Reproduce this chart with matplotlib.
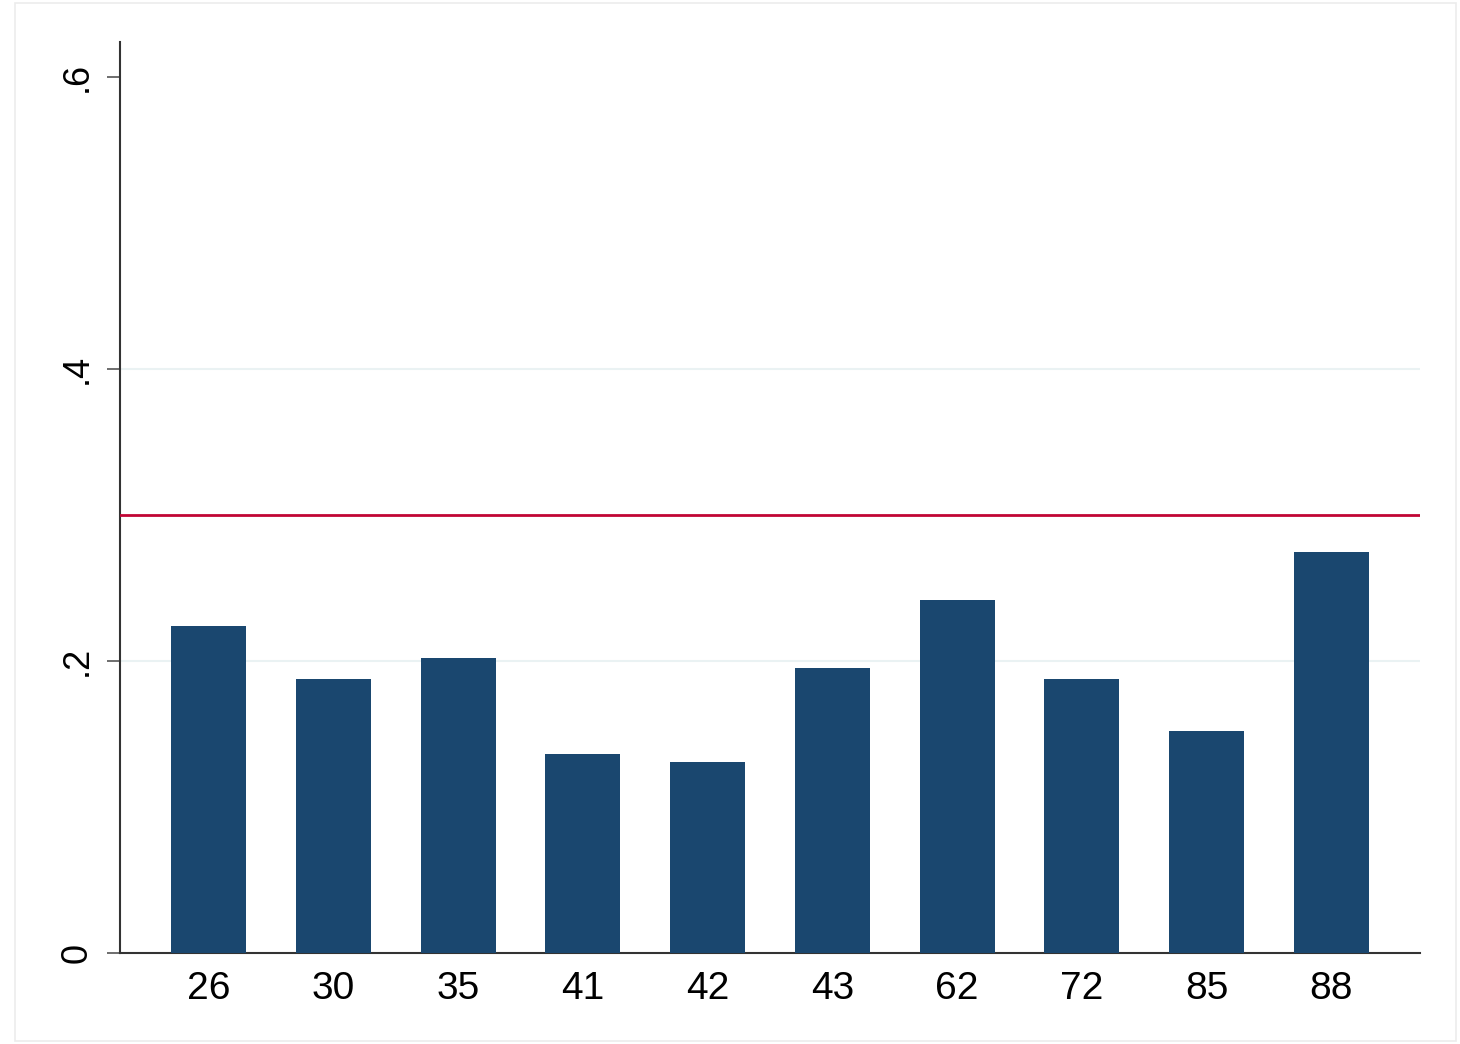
import matplotlib
matplotlib.use("Agg")
import matplotlib.pyplot as plt
from matplotlib.patches import Rectangle

# values
categories = ['26', '30', '35', '41', '42', '43', '62', '72', '85', '88']
shares = [0.224, 0.188, 0.202, 0.136, 0.131, 0.195, 0.242, 0.188, 0.152, 0.275]
ref_line = 0.30
y_ticks = [0, 0.2, 0.4, 0.6]
y_tick_labels = ['0', '.2', '.4', '.6']
grid_at = [0.2, 0.4]

plt.rcParams['font.family'] = ['Liberation Sans', 'DejaVu Sans']

W, H = 1460, 1044
fig = plt.figure(figsize=(W / 100, H / 100), dpi=100)
fig.patch.set_facecolor('white')

# faint outer frame like the Stata graph region
fig.patches.append(Rectangle((15 / W, 3 / H), (1456 - 15) / W, (1041 - 3) / H,
                             transform=fig.transFigure, fill=False,
                             edgecolor='#ececec', linewidth=1.2))

ax = fig.add_axes([120 / W, 91 / H, 1300 / W, 911 / H])
x = list(range(len(categories)))
ax.bar(x, shares, width=0.6, color='#1a476f', zorder=3)
ax.axhline(ref_line, color='#c10534', linewidth=2, zorder=4)

ax.set_xlim(-0.71, len(categories) - 1 + 0.71)
ax.set_ylim(0, 0.624)
ax.set_yticks(y_ticks)
ax.set_yticklabels(y_tick_labels, rotation=90, va='center')
ax.set_xticks(x)
ax.set_xticklabels(categories)

for yv in grid_at:
    ax.axhline(yv, color='#eaf2f3', linewidth=1.5, zorder=1)

for s in ['top', 'right']:
    ax.spines[s].set_visible(False)
for s in ['left', 'bottom']:
    ax.spines[s].set_color('#333333')
    ax.spines[s].set_linewidth(1.5)

ax.tick_params(axis='y', length=9.5, width=1.2, color='#555555', labelsize=26, pad=9)
ax.tick_params(axis='x', length=0, labelsize=28, pad=13)

fig.savefig('out.png', dpi=100)
